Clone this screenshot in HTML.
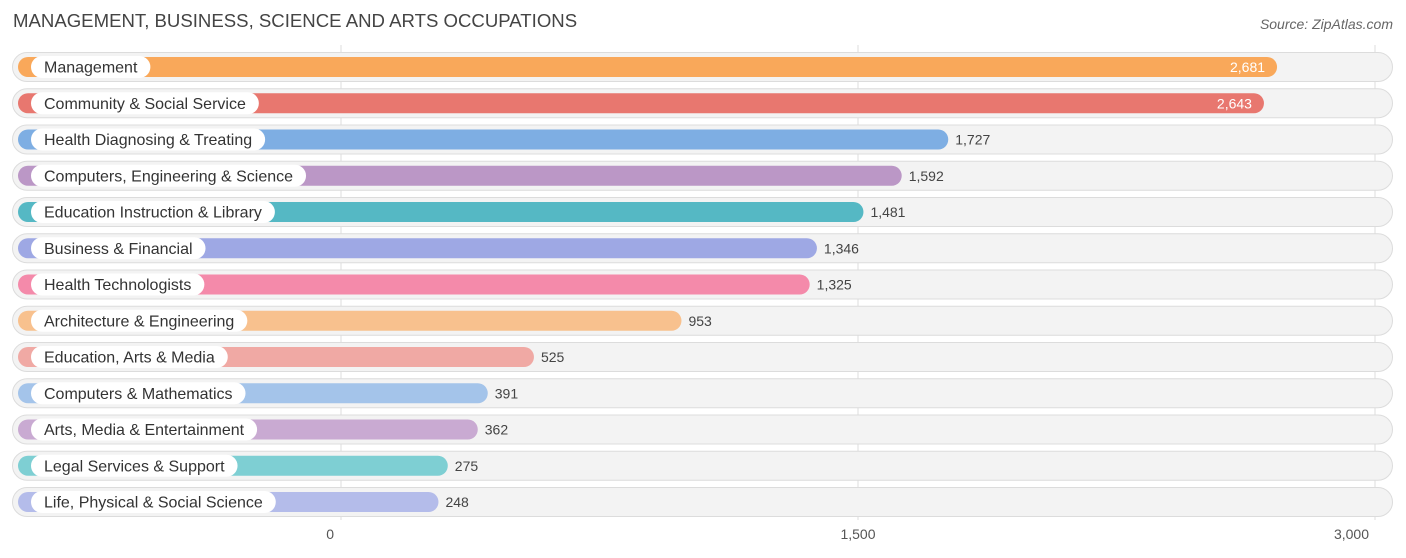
<!DOCTYPE html>
<html><head><meta charset="utf-8">
<style>
body{margin:0;background:#fff;font-family:"Liberation Sans",sans-serif;}
svg{display:block}
</style></head>
<body>
<svg id="chart" width="1406" height="558" xmlns="http://www.w3.org/2000/svg">
<text x="13" y="27" font-size="18.6" fill="#444">MANAGEMENT, BUSINESS, SCIENCE AND ARTS OCCUPATIONS</text>
<text x="1393" y="29" font-size="14" font-style="italic" fill="#666" text-anchor="end">Source: ZipAtlas.com</text>
<g id="grid"></g>
<g id="rows"></g>
<g id="ticks"></g>
</svg>
<script>
const categories=["Management","Community & Social Service","Health Diagnosing & Treating","Computers, Engineering & Science","Education Instruction & Library","Business & Financial","Health Technologists","Architecture & Engineering","Education, Arts & Media","Computers & Mathematics","Arts, Media & Entertainment","Legal Services & Support","Life, Physical & Social Science"];
const values=[2681,2643,1727,1592,1481,1346,1325,953,525,391,362,275,248];
const valueLabels=["2,681","2,643","1,727","1,592","1,481","1,346","1,325","953","525","391","362","275","248"];
const colors=["#f9a85a","#e8776f","#7eaee3","#bb97c6","#55b8c4","#9ea8e4","#f48aaa","#f8c18e","#f0a9a4","#a4c4ea","#c9aad2","#7ecfd3","#b4bcea"];
const tickValues=[0,1500,3000];
const tickLabels=["0","1,500","3,000"];
const NS="http://www.w3.org/2000/svg";
const x=v=>341+v*(517/1500);
const y=i=>67+i*36.25;
function mk(tag,attrs,parent,text){const e=document.createElementNS(NS,tag);for(const k in attrs)e.setAttribute(k,attrs[k]);if(text!==undefined)e.textContent=text;parent.appendChild(e);return e;}
const grid=document.getElementById('grid'),rows=document.getElementById('rows'),ticks=document.getElementById('ticks');
tickValues.forEach((t,i)=>{
  const l=mk('line',{x1:x(t),x2:x(t),y1:45,y2:520,stroke:'#ddd','stroke-width':1},grid);
  
  
  const tx=mk('text',{x:x(t)-(i==2?6:(i==0?7:0)),y:539,'font-size':14,fill:'#555','text-anchor':i==0?'end':(i==2?'end':'middle')},ticks,tickLabels[i]);
  if(i==0){tx.setAttribute('x',334);}
  
  
});
categories.forEach((c,i)=>{
  const cy=y(i);
  const g=mk('g',{},rows);
  
  
  mk('rect',{x:12.5,y:cy-14.5,width:1380,height:29,rx:14.5,fill:'#f3f3f3',stroke:'#dcdcdc'},g);
  const end=x(values[i])+12;
  const b=mk('rect',{x:18,y:cy-10,width:end-18,height:20,rx:10,fill:colors[i]},g);
  
  
  const lbl=mk('text',{x:44,y:cy+5.5,'font-size':16,fill:'#333'},g,c);
  
  
  const w=lbl.getComputedTextLength();
  const pill=mk('rect',{x:31,y:cy-11,width:w+26,height:22,rx:11,fill:'#fff'},g);
  g.insertBefore(pill,lbl);
  const inside=values[i]>2000;
  const vt=mk('text',{x:inside?end-12:end+7,y:cy+5,'font-size':14,fill:inside?'#fff':'#444','text-anchor':inside?'end':'start'},g,valueLabels[i]);
  
  
});
</script>
</body></html>
